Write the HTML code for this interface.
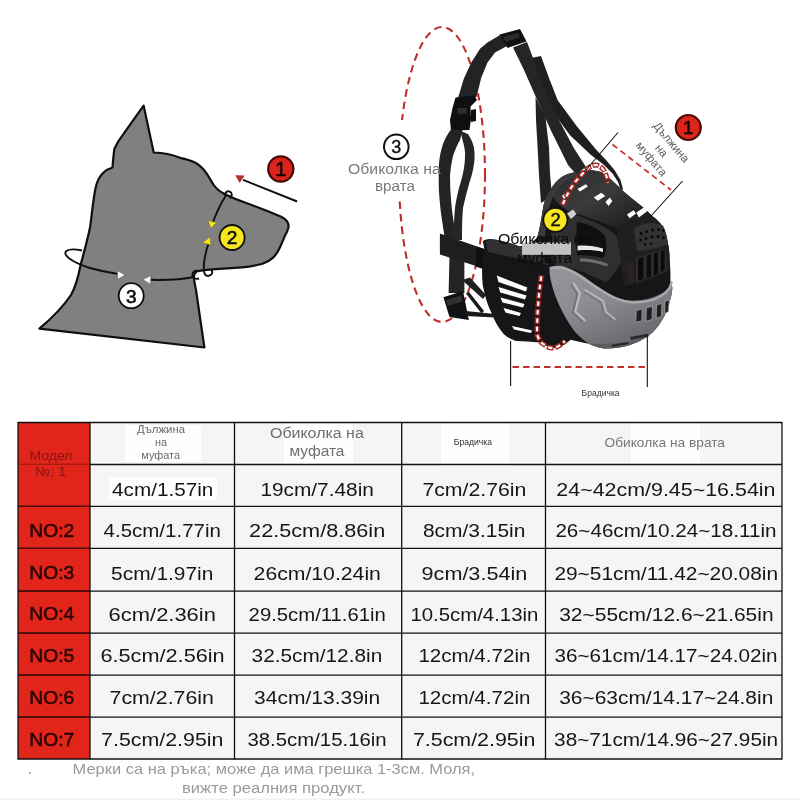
<!DOCTYPE html>
<html><head><meta charset="utf-8"><title>Size chart</title>
<style>
html,body{margin:0;padding:0;background:#fff;}
body{width:800px;height:800px;overflow:hidden;font-family:"Liberation Sans",sans-serif;}
svg{display:block;will-change:transform;}
text{font-family:"Liberation Sans",sans-serif;}
.d{font-size:19.2px;fill:#161616;}
.n{font-size:18.5px;fill:#2b0503;stroke:#2b0503;stroke-width:0.55px;}
.m{font-size:13.2px;fill:#8a1510;}
.h1{font-size:11.5px;fill:#6a6a6a;}
.h2{font-size:14px;fill:#6f6f6f;}
.h3{font-size:8.7px;fill:#333;}
.h4{font-size:13.3px;fill:#777;}
.f{font-size:15px;fill:#9a9a9a;}
</style></head><body>
<svg width="800" height="800" viewBox="0 0 800 800">
<rect width="800" height="800" fill="#ffffff"/>
<g id="dog">
<path d="M143.6,105.6 L153.7,152.5 C163,152.8 172,154.5 180,157.8 C186,159 191,160.5 195,162.5 C199.5,165 203,168.5 206.2,172.8 C209,177 211,181 213.7,185 C216.5,189 220.5,192 225,194.3 C231.5,197.5 238.5,200.3 245.6,202.8 C253,205.6 260.5,208.4 268,211.2 C272.5,213 277,214.8 281.2,216.8 C283.5,218 285.7,219.6 287.2,221.5 C288.4,223.5 288.8,225.8 288.3,228 C287.6,230.8 286.4,233.4 285,235.6 C283.3,240 281.3,244.5 279.3,248.7 C277.7,251.8 275.9,254.6 273.7,257.1 C270.4,260.2 266.7,262.3 262.5,263.7 C255.8,265.6 248.9,266.7 241.8,267.4 C231.8,268.3 221.9,268.9 211.9,269.3 C206,269.7 200.5,270.2 196.5,271.5 C194.3,273 193.6,275.5 194,278.7 C194.5,283 195.3,287 196,290 L204.4,347.5 L39.4,328.7 C52,318 63,307 71,295 C76,286 78.5,276 80.6,265 C84,252 87.5,240 90,227.5 C92,214 93,200 95.6,188 C97,181 100,176 103,173 C106,170 109,168.5 112.5,167.5 C113,161 113.5,155 114.4,148.7 C117,143 120,138.5 123.7,133.7 Z" fill="#808080" stroke="#0f0f0f" stroke-width="2.2" stroke-linejoin="round"/>
<!-- muzzle loop upper -->
<path d="M225.2,196 C224.5,192.5 227.5,190.5 229.5,191.5 C232.5,192.5 232.5,196 229.8,198.3" fill="none" stroke="#0f0f0f" stroke-width="1.9"/>
<path d="M226.3,195 C222.5,200.5 219.5,206.5 217.5,211.2 C215.8,215 214.3,218.5 213,222" fill="none" stroke="#0f0f0f" stroke-width="1.9"/>
<!-- muzzle loop lower -->
<path d="M208.3,244 C206.5,249.5 205.2,255 204.4,260 C203.8,264 203.7,268 204,271.2 C204.4,274.5 206,276 208,276 C211,275.8 212.6,273.5 212.2,271.8 C212,270.5 211.5,269.8 211,269.3" fill="none" stroke="#0f0f0f" stroke-width="1.9"/>
<path d="M199,278.5 C196,279.5 192.5,278 192.3,275 C192.2,272 195,270 197.5,270.8" fill="none" stroke="#0f0f0f" stroke-width="1.9"/>
<!-- neck loop -->
<path d="M82,250.5 C66,247 60.5,252.5 70,259 C75,262.5 82,265.5 90,268 C99,270.5 108,272.5 118,274" fill="none" stroke="#0f0f0f" stroke-width="1.9"/>
<path d="M150,279.8 C165,280.2 181,279.8 193.5,277" fill="none" stroke="#0f0f0f" stroke-width="1.9"/>
<!-- arrowheads -->
<polygon points="117.3,270.6 125.3,275 117.6,279.4" fill="#f4f4f4" stroke="#444" stroke-width="0.5"/>
<polygon points="151,275.6 142.6,279.6 150.6,284.4" fill="#f4f4f4" stroke="#444" stroke-width="0.5"/>
<polygon points="208.1,220.6 216.5,222.5 210.9,228.2" fill="#f5e21e" stroke="#6b6410" stroke-width="0.4"/>
<polygon points="202.5,242.7 210,237.1 210.9,245" fill="#f5e21e" stroke="#6b6410" stroke-width="0.4"/>
<!-- arrow 1 -->
<line x1="297.1" y1="201.5" x2="243" y2="179.8" stroke="#0f0f0f" stroke-width="1.9"/>
<polygon points="235.3,175.2 244.7,175.6 239.6,183.1" fill="#b22f2c"/>
<!-- circles -->
<circle cx="280.8" cy="169" r="12.6" fill="#d9251d" stroke="#470806" stroke-width="2.2"/>
<text x="280.8" y="176.2" text-anchor="middle" font-size="20" fill="#1a0504" stroke="#1a0504" stroke-width="0.7">1</text>
<circle cx="232.1" cy="237.5" r="12.5" fill="#f6e51f" stroke="#0f0f0f" stroke-width="1.8"/>
<text x="232.1" y="244.3" text-anchor="middle" font-size="19" fill="#111" stroke="#111" stroke-width="0.6">2</text>
<circle cx="131.2" cy="295.7" r="12.5" fill="#ffffff" stroke="#0f0f0f" stroke-width="1.8"/>
<text x="131.2" y="302.5" text-anchor="middle" font-size="19" fill="#111" stroke="#111" stroke-width="0.6">3</text>
</g>
<g id="muzzle">
<defs>
<linearGradient id="gTop" x1="0" y1="0" x2="1" y2="1">
<stop offset="0" stop-color="#2a2a2c"/><stop offset="0.45" stop-color="#3b3b3e"/><stop offset="1" stop-color="#161618"/>
</linearGradient>
<linearGradient id="gPanel" x1="0" y1="0" x2="0.6" y2="1">
<stop offset="0" stop-color="#949699"/><stop offset="0.5" stop-color="#8a8c8f"/><stop offset="1" stop-color="#66686b"/>
</linearGradient>
<linearGradient id="gStrap" x1="0" y1="0" x2="1" y2="0">
<stop offset="0" stop-color="#202022"/><stop offset="0.5" stop-color="#2b2b2e"/><stop offset="1" stop-color="#19191b"/>
</linearGradient>
</defs>
<!-- neck dashed ellipse -->
<ellipse cx="442" cy="174.5" rx="43" ry="147.5" fill="none" stroke="#bf2f29" stroke-width="2.1" stroke-dasharray="7.5 5"/>
<rect x="385" y="120" width="62" height="77" fill="#fff"/>
<!-- strap B: far-side vertical -->
<path d="M535.5,97 L545.5,117 L549,147.5 L550,174 L552,196 L541,203 L539,175 L537.6,147.5 L536,120 Z" fill="#222224"/>
<!-- strap C: thin to front top -->
<path d="M531,58 L541,56 L549,78 L557.7,100.3 L577,126.5 L596,149.5 L606,160 L614.5,170 L620.5,180 L623,189.5 L620.8,190.2 L618,182 L612.5,173.5 L603.5,164.5 L591,155 L570,135.3 L550,108 L538,84 Z" fill="#1f1f21"/>
<!-- strap A: main right strap -->
<path d="M513,47.5 L527,42 L537.5,70 L549,100 L559.5,121 L573.5,147.5 L586,167 L576,174 L568,165 L550.7,130 L535,95 L524,70 Z" fill="#252527"/>
<!-- left strap from top buckle to clip -->
<path d="M500,35 L487.5,42.5 L480,48.8 L471.3,62.5 L463.8,78.8 L458,98 L476.5,97 L481.3,77.5 L487.5,62.5 L495,52.5 L508,45.5 Z" fill="#232325"/>
<!-- top slider buckle -->
<path d="M499.5,34.5 L520,29 L526.5,41.5 L507.5,48 Z" fill="#101012"/>
<path d="M503,37 L518,33 L520,37.5 L506,42 Z" fill="#2a2a2d"/>
<!-- clip buckle -->
<path d="M455.5,97.5 L474.5,95.5 L477,100 L470.5,106.5 L471,119 L469.5,130 L451,130.5 L450,120 L452.5,108 Z" fill="#0f0f11"/>
<path d="M457.5,108 L467,108 L466.5,114 L457,113.5 Z" fill="#2c2c2f"/>
<path d="M471,110 L476,109 L476,121 L471,122 Z" fill="#111113"/>
<!-- loop below clip -->
<path d="M451,129.5 C447.5,134 445,139 443,144 C440.8,150.5 439.5,157 439,164 C438.6,173.5 438.6,183 439,192 C439.6,201.5 440.6,211 442,220 L445,240 L457,240 L454,224 C452.6,216 451.6,208 451,200 C450.3,192 450,184 450,176 C450.5,169 451.5,162.5 453,156 C454.8,150.5 457.2,145 460,140 L462.5,130 Z" fill="#232325"/>
<path d="M460.5,131 L468,134 C471,138.5 473,143 474,148 C474.8,153 474.8,158.5 474,164 C473,171 471.3,177.5 469,184 C466.8,192 464.7,200 463,208 C462.3,216 462,224 462,232 L462,240 L452,240 L454,224 C454.2,218.5 454.5,213 455,208 C456,201 457.3,194.5 459,188 C461,181.5 462.8,175 464,168 C464.8,162.5 465.2,157 465,152 C464.4,147 463.4,142.5 462,138 Z" fill="#262628"/>
<!-- vertical strap below -->
<path d="M449.5,256 L464.4,261 L464.4,293 L448.6,293 Z" fill="#242426"/>
<!-- horizontal strap -->
<path d="M439.9,233.4 L487,250 L486.3,269.3 L439.9,254.4 Z" fill="#1e1e20"/>
<path d="M476.5,246.5 L487.5,250 L486.5,270 L475.5,266.5 Z" fill="#0f0f11"/>
<!-- lower slider -->
<path d="M443.4,297.3 L463,291 L468.8,320 L449.5,317 Z" fill="#111113"/>
<path d="M446,300 L461,295.5 L462.5,301.5 L447.5,306 Z" fill="#303033"/>
<!-- thin straps to cage -->
<path d="M466,293.5 L469,292 L484,311 L481.5,313.5 Z" fill="#1a1a1c"/>
<path d="M466,311 L495,314 L495,317.5 L466,316 Z" fill="#1a1a1c"/>
<path d="M462,280 L470,277.5 L486,295 L483,299 Z" fill="#202022"/>
<!-- basket silhouette -->
<path d="M543.5,205.5 C545,199 547.5,194 550.5,189.7 C553.5,184.5 557,180.5 561,177.5 C565.5,174.5 570,173 575,172.2 C584,169.5 593,169.5 601,172 C609,177 616,184 623,191 C631,198 639,204 645,209 C648,212 650.5,214 652,216 C656.5,219 660,222.5 662.5,226.5 C665.5,231.5 667,237 667.7,242.3 C669,247.5 669.5,253 669.5,258 C670.3,266 670.6,274 670.4,280.7 C672,286 672.8,288 672.2,289.4 C671.8,294 670.8,298.5 669.4,302.5 C668,308 666,313 663.7,317.5 C660.5,323 657,328 652.5,332.5 C648,336.5 643,339.5 637.5,341.9 C631.5,344.5 625,346.5 618.7,347.5 C613.5,348.3 608.5,348.6 603.7,348.4 C598.5,347.5 593.5,346 588.7,343.7 C582,342.5 576,341 570.7,339.7 C566,343.5 562,346.5 557,348 C551,348 545,345.5 540.5,342.5 C531,341.5 523,341.5 516,341 C511,339.5 507,337 503.7,334 C498.5,328 494.5,321 491.5,313 C487,304 484.5,294.5 482.7,285 C481.5,273 482,261 484.5,250 C484,246.5 483.3,243.5 482.7,241.3 C486,238.5 490.5,238.5 495,239.5 C503.5,241 511.5,243.5 519.5,246.5 C526,245 532,242.5 537,238 C540,229 541.5,217 543.5,205.5 Z" fill="#161618"/>
<!-- top surface lighter -->
<path d="M575,172.2 C584,169.5 593,169.5 601,172 C609,177 616,184 623,191 C631,198 639,204 645,209 C648,212 650.5,214 652,216 C640,218 628,222 617,228 C600,222 584,215 570,212 C563,208 557,203 553,197 C557,187 565,177 575,172.2 Z" fill="url(#gTop)"/>
<!-- front dome slightly lighter -->
<path d="M652,216 C656.5,219 660,222.5 662.5,226.5 C665.5,231.5 667,237 667.7,242.3 C669,247.5 669.5,253 669.5,258 L669.8,270 C656,278 640,284 624,286 C621,268 619,248 617,228 C628,222 640,218 652,216 Z" fill="#1f1f21"/>
<!-- rear rim band lighter -->
<path d="M543.5,205.5 C545,199 547.5,194 550.5,189.7 C553.5,184.5 557,180.5 561,177.5 C565.5,174.5 570,173 575,172.2 L578,176 C571,177.5 565,181 560.5,186 C554,193 550,202 548.5,212 L545,236 L537,238 C540,229 541.5,217 543.5,205.5 Z" fill="#3a3a3d"/>
<!-- side frame (lighter charcoal) -->
<path d="M553,212 C564,211 578,215 592,221 C604,226 612,231 617,236 L621,262 C617,270 612,277 606,282 C598,279 590,275 583,272 C574,268.5 565,266.5 556,265.5 C553,262 551,258 549.5,254 Z" fill="#2f2f32"/>
<!-- side window dark interior -->
<path d="M577,222 C588,223.5 598,228 605,236 C607,244 607,251 603,258 C594,256 585,255 577,255.5 C576,245 576,233 577,222 Z" fill="#101012"/>
<path d="M577.6,245.7 C586,245 595,246 603,248.5 L603,252 C595,250 586,249.5 577.6,250.5 Z" fill="#e8e8e8"/>
<path d="M580,258.5 C590,258.5 600,260.5 608,264 L607,266.5 C599,263.5 590,261.5 580,261.5 Z" fill="#6f6f72"/>
<!-- gray lower panel -->
<path d="M549.4,266.9 C554,265.6 558.5,265.4 562.5,266 C567.5,267.5 572.5,269.8 577.5,272.5 C584,276.5 590,281 596.2,285.6 C602.5,289.8 608.5,293.6 615,296.9 C620,299 625,300.2 630,300.6 C636.5,300.8 642.5,300.2 648.7,298.7 C654,297.2 659,295 663.7,292.2 C667,289.8 669.5,287 670.6,281 C672,286 672.8,288 672.2,289.4 C671.8,294 670.8,298.5 669.4,302.5 C668,308 666,313 663.7,317.5 C660.5,323 657,328 652.5,332.5 C648,336.5 643,339.5 637.5,341.9 C631.5,344.5 625,346.5 618.7,347.5 C613.5,348.3 608.5,348.6 603.7,348.4 C598.5,347.5 593.5,346 588.7,343.7 C584,340.5 579.5,336.8 575.6,332.5 C571.5,327.3 567.8,321.6 564.4,315.6 C560.8,309 557.7,302 555,295 C553,289.5 551.5,284 550.3,278.1 C549.7,274.3 549.4,270.5 549.4,266.9 Z" fill="url(#gPanel)"/>
<path d="M551,268.3 C556,267.2 561,267.3 566,269 C572,271.2 578,274.8 584,279 C592,284.5 600,290 608,294.5 C615,298.3 622,301 630,302.2 C638,302.8 646,302 653,299.8 C660,297.3 666,293.3 669.5,288 C670.6,286 671.3,284 671.6,282" fill="none" stroke="#aaacae" stroke-width="2.2" stroke-linecap="round"/>
<path d="M588.7,343.7 C598,348 610,349.5 622,347 C632,345 641,341 648,335.5 C640,339.5 630,342 620,343 C608,344 597,343.5 588.7,343.7 Z" fill="#5a5c5f"/>
<!-- chevron emboss -->
<path d="M573.5,283 L580,293.3 L575.3,311.5 L585.5,321" fill="none" stroke="#b9bbbd" stroke-width="2.2" stroke-linejoin="round"/>
<path d="M570.8,284 L577.3,294.3 L572.6,312.5 L582.8,322" fill="none" stroke="#6a6c6f" stroke-width="1.2" stroke-linejoin="round"/>
<path d="M584.5,289.5 L603,300.8 L606,312 L615.5,319.5" fill="none" stroke="#b3b5b7" stroke-width="2" stroke-linejoin="round"/>
<path d="M584,292 L601,302.5 L604,313.5 L613.5,321" fill="none" stroke="#707275" stroke-width="1.1" stroke-linejoin="round"/>
<!-- slots on gray band -->
<g fill="#1f1f21" stroke="#a9abad" stroke-width="0.7">
<path d="M636.2,310.5 L642.2,309 L641.8,321 L635.8,322.2 Z"/>
<path d="M646.4,308 L652.5,306.2 L652,319.5 L646,321.2 Z"/>
<path d="M656.5,305 L661.9,303.4 L661.4,316.5 L656.2,318.4 Z"/>
<path d="M665,301.5 L669.2,299.7 L668.4,311.5 L664.7,313.7 Z"/>
</g>
<g fill="#2a2a2c">
<path d="M630,337 L648,333.8 L648.7,336.5 L631,340 Z"/>
<path d="M611.5,344.8 L628,342 L628.5,344 L612.5,347 Z"/>
</g>
<!-- white openings on top of basket -->
<g fill="#ffffff">
<path d="M577.4,188.9 L585.9,184.3 L587.8,186.5 L579.9,191.4 Z"/>
<path d="M593.7,197.6 L601.3,192.7 L605.3,195.9 L597.8,200.8 Z"/>
<path d="M605.4,202 L609.7,197.4 L612.3,201.1 L608.6,206.1 Z"/>
<path d="M627,214.6 L633.6,210.2 L636.1,213.4 L629.6,218.3 Z"/>
<path d="M636.4,212.5 L645,206.7 L647.8,210.8 L638.9,217.6 Z"/>
<path d="M562,196 L567,192 L569,194 L564,199 Z"/>
</g>
<!-- front face vertical slots -->
<path d="M636,258 L666,248.5 L667,271 L636,282.5 Z" fill="#2c2c2e"/>
<g fill="#0b0b0c">
<path d="M638,259 L643.3,257 L643.3,279 L638,281 Z"/>
<path d="M646.8,256 L651,254.5 L651,276.5 L646.8,278 Z"/>
<path d="M653.8,253.5 L658,252 L658,273.5 L653.8,275.5 Z"/>
<path d="M660.8,251 L664.6,250 L664.6,270 L660.8,272.5 Z"/>
</g>
<path d="M627,263 L633,261 L633,283 L628,284.5 Z" fill="#2b2320"/>
<!-- small holes -->
<path d="M634,228 C642,223 654,221.5 663,225.5 C666,231 667.3,238 667.7,245 C658,248 647,250 637,251 Z" fill="#333336"/>
<g fill="#08080a">
<circle cx="641" cy="233.5" r="1.5"/><circle cx="646.5" cy="231.5" r="1.5"/><circle cx="652.5" cy="230" r="1.5"/><circle cx="658.5" cy="229.5" r="1.4"/><circle cx="663.5" cy="230.5" r="1.3"/>
<circle cx="640.5" cy="240" r="1.5"/><circle cx="646" cy="238.5" r="1.5"/><circle cx="652" cy="237" r="1.5"/><circle cx="658" cy="236.5" r="1.4"/><circle cx="663.5" cy="237.5" r="1.3"/>
<circle cx="645" cy="244.5" r="1.3"/><circle cx="651" cy="243.5" r="1.3"/>
</g>
<path d="M486,241.5 C490,239.5 494,239.3 497,240 C505,241.5 512,243.5 519.5,246.5 C527,248.5 535,252 542,257 L549,266 C540,262.5 530,260 520,258.5 C509,256.5 498,254.5 488,252 Z" fill="#303033"/>
<!-- rear cage slots (white) -->
<g fill="#ffffff">
<path d="M496.7,275.5 L527.3,287.5 L526,291.5 L498.5,282 Z"/>
<path d="M498.5,287 L526.5,295.5 L525,299.5 L500.3,292.5 Z"/>
<path d="M500.5,297.5 L524.5,304 L523,307.5 L502.5,302.5 Z"/>
<path d="M503.5,308 L521,313 L519.5,316 L505.5,312.5 Z"/>
<path d="M512,326 L532,330.5 L531,333 L514,329.5 Z"/>
</g>
<!-- light patch remnants behind label 2 -->
<rect x="522" y="242.5" width="49" height="12.3" fill="#c2c2c2"/>
<path d="M567,213.5 L573,209.5 L576.5,214 L571,219 Z" fill="#d0d0d0"/>
<!-- measure dashed: snout circumference -->
<path d="M562.5,205 C567,194 573,183 581.7,174.7 C587,168 592,164.5 596.5,165 C602,166 606,171 608,183" fill="none" stroke="#ad2a25" stroke-width="5" stroke-dasharray="6.6 1.8"/>
<path d="M562.5,205 C567,194 573,183 581.7,174.7 C587,168 592,164.5 596.5,165 C602,166 606,171 608,183" fill="none" stroke="#fff" stroke-width="2" stroke-dasharray="4.4 4" stroke-dashoffset="-1.1"/>
<path d="M541.4,275.4 C538.5,295 537,315 537,334 C539,341 541.5,343.5 544,344.5 C547,347.5 551,348.5 554.5,348 C558.5,346.5 562,344 565,341" fill="none" stroke="#ad2a25" stroke-width="5" stroke-dasharray="6.6 1.8"/>
<path d="M541.4,275.4 C538.5,295 537,315 537,334 C539,341 541.5,343.5 544,344.5 C547,347.5 551,348.5 554.5,348 C558.5,346.5 562,344 565,341" fill="none" stroke="#fff" stroke-width="2" stroke-dasharray="4.4 4" stroke-dashoffset="-1.1"/>
<!-- length lines -->
<line x1="618" y1="132.5" x2="586" y2="170" stroke="#111" stroke-width="1.1"/>
<line x1="682.5" y1="181" x2="651" y2="216" stroke="#111" stroke-width="1.1"/>
<line x1="612.5" y1="144.5" x2="671" y2="190" stroke="#c2322b" stroke-width="1.7" stroke-dasharray="6 4"/>
<!-- chin lines -->
<line x1="510.6" y1="341" x2="510.6" y2="386" stroke="#111" stroke-width="1.1"/>
<line x1="647.3" y1="335" x2="647.3" y2="387" stroke="#111" stroke-width="1.1"/>
<line x1="512.5" y1="367" x2="647" y2="367" stroke="#c2322b" stroke-width="1.8" stroke-dasharray="6.5 4"/>
<!-- labels -->
<circle cx="396.3" cy="146.8" r="12.3" fill="#fff" stroke="#111" stroke-width="2"/>
<text x="396.3" y="153.3" text-anchor="middle" font-size="18" fill="#111" stroke="#111" stroke-width="0.4">3</text>
<text x="348" y="173.8" textLength="92.8" lengthAdjust="spacingAndGlyphs" font-size="14" fill="#7a7a7a">Обиколка на</text>
<text x="375" y="191.3" textLength="40" lengthAdjust="spacingAndGlyphs" font-size="14" fill="#7a7a7a">врата</text>
<circle cx="555.4" cy="219.9" r="12" fill="#f6e51f" stroke="#111" stroke-width="1.7"/>
<text x="555.6" y="226.4" text-anchor="middle" font-size="18.5" fill="#111" stroke="#111" stroke-width="0.4">2</text>
<text x="497.9" y="243.5" textLength="93.5" lengthAdjust="spacingAndGlyphs" font-size="14.5" fill="#0c0c0c">Обиколка на</text>
<text x="517" y="262.8" textLength="55" lengthAdjust="spacingAndGlyphs" font-size="14.5" fill="#0c0c0c">муфата</text>
<circle cx="688.3" cy="127.5" r="12.5" fill="#d9251d" stroke="#470806" stroke-width="2.2"/>
<text x="688.3" y="134.3" text-anchor="middle" font-size="19" fill="#1a0504" stroke="#1a0504" stroke-width="0.5">1</text>
<g transform="translate(661.6,150.5) rotate(50)" font-size="11.6" fill="#5e5e5e" text-anchor="middle">
<text x="0" y="-9">Дължина</text>
<text x="0" y="4">на</text>
<text x="0" y="17">муфата</text>
</g>
<text x="581.6" y="395.5" textLength="38" lengthAdjust="spacingAndGlyphs" font-size="8.7" fill="#333">Брадичка</text>
</g>

<g id="table">
<rect x="90" y="422.5" width="692" height="336.5" fill="#f5f5f5"/>
<rect x="18" y="422.5" width="72" height="336.5" fill="#e1251b"/>
<rect x="125" y="425" width="76" height="37" fill="#ffffff" opacity="0.85"/>
<rect x="284" y="422" width="69" height="43" fill="#ffffff" opacity="0.85"/>
<rect x="441" y="422" width="68" height="44" fill="#ffffff" opacity="0.85"/>
<rect x="631" y="422" width="69" height="42.5" fill="#ffffff" opacity="0.85"/>
<rect x="109" y="477" width="108" height="23" fill="#ffffff" opacity="0.85"/>
<line x1="18" y1="422.5" x2="782" y2="422.5" stroke="#111" stroke-width="1.3"/>
<line x1="90" y1="464.5" x2="782" y2="464.5" stroke="#111" stroke-width="1.3"/>
<line x1="18" y1="506.3" x2="782" y2="506.3" stroke="#111" stroke-width="1.3"/>
<line x1="18" y1="548.3" x2="782" y2="548.3" stroke="#111" stroke-width="1.3"/>
<line x1="18" y1="591.2" x2="782" y2="591.2" stroke="#111" stroke-width="1.3"/>
<line x1="18" y1="633.2" x2="782" y2="633.2" stroke="#111" stroke-width="1.3"/>
<line x1="18" y1="675.1" x2="782" y2="675.1" stroke="#111" stroke-width="1.3"/>
<line x1="18" y1="717.1" x2="782" y2="717.1" stroke="#111" stroke-width="1.3"/>
<line x1="18" y1="759" x2="782" y2="759" stroke="#111" stroke-width="1.3"/>
<line x1="18" y1="421.9" x2="18" y2="759.6" stroke="#111" stroke-width="1.3"/>
<line x1="90" y1="421.9" x2="90" y2="759.6" stroke="#111" stroke-width="1.3"/>
<line x1="234.5" y1="421.9" x2="234.5" y2="759.6" stroke="#111" stroke-width="1.3"/>
<line x1="401.7" y1="421.9" x2="401.7" y2="759.6" stroke="#111" stroke-width="1.3"/>
<line x1="545.5" y1="421.9" x2="545.5" y2="759.6" stroke="#111" stroke-width="1.3"/>
<line x1="782" y1="421.9" x2="782" y2="759.6" stroke="#111" stroke-width="1.3"/>
<line x1="18" y1="464.2" x2="90" y2="464.2" stroke="#6e120d" stroke-width="0.9" opacity="0.75"/>
<line x1="18.7" y1="506.3" x2="89.3" y2="506.3" stroke="#4a0806" stroke-width="1.3"/>
<line x1="18.7" y1="548.3" x2="89.3" y2="548.3" stroke="#4a0806" stroke-width="1.3"/>
<line x1="18.7" y1="591.2" x2="89.3" y2="591.2" stroke="#4a0806" stroke-width="1.3"/>
<line x1="18.7" y1="633.2" x2="89.3" y2="633.2" stroke="#4a0806" stroke-width="1.3"/>
<line x1="18.7" y1="675.1" x2="89.3" y2="675.1" stroke="#4a0806" stroke-width="1.3"/>
<line x1="18.7" y1="717.1" x2="89.3" y2="717.1" stroke="#4a0806" stroke-width="1.3"/>
<text x="112.1" y="495.8" textLength="101.3" lengthAdjust="spacingAndGlyphs" class="d">4cm/1.57in</text>
<text x="260.4" y="495.8" textLength="113.5" lengthAdjust="spacingAndGlyphs" class="d">19cm/7.48in</text>
<text x="422.4" y="495.8" textLength="104.0" lengthAdjust="spacingAndGlyphs" class="d">7cm/2.76in</text>
<text x="556.3" y="495.8" textLength="219.2" lengthAdjust="spacingAndGlyphs" class="d">24~42cm/9.45~16.54in</text>
<text x="103.6" y="537.3" textLength="117.3" lengthAdjust="spacingAndGlyphs" class="d">4.5cm/1.77in</text>
<text x="249.1" y="537.3" textLength="136.1" lengthAdjust="spacingAndGlyphs" class="d">22.5cm/8.86in</text>
<text x="422.9" y="537.3" textLength="102.5" lengthAdjust="spacingAndGlyphs" class="d">8cm/3.15in</text>
<text x="555.4" y="537.3" textLength="221.1" lengthAdjust="spacingAndGlyphs" class="d">26~46cm/10.24~18.11in</text>
<text x="111.1" y="579.5" textLength="102.3" lengthAdjust="spacingAndGlyphs" class="d">5cm/1.97in</text>
<text x="253.6" y="579.5" textLength="127.3" lengthAdjust="spacingAndGlyphs" class="d">26cm/10.24in</text>
<text x="421.6" y="579.5" textLength="105.6" lengthAdjust="spacingAndGlyphs" class="d">9cm/3.54in</text>
<text x="554.4" y="579.5" textLength="223.7" lengthAdjust="spacingAndGlyphs" class="d">29~51cm/11.42~20.08in</text>
<text x="108.6" y="620.6" textLength="107.3" lengthAdjust="spacingAndGlyphs" class="d">6cm/2.36in</text>
<text x="248.6" y="620.6" textLength="137.3" lengthAdjust="spacingAndGlyphs" class="d">29.5cm/11.61in</text>
<text x="410.4" y="620.6" textLength="128.0" lengthAdjust="spacingAndGlyphs" class="d">10.5cm/4.13in</text>
<text x="559.2" y="620.6" textLength="214.4" lengthAdjust="spacingAndGlyphs" class="d">32~55cm/12.6~21.65in</text>
<text x="100.4" y="662.2" textLength="124.3" lengthAdjust="spacingAndGlyphs" class="d">6.5cm/2.56in</text>
<text x="251.6" y="662.2" textLength="130.6" lengthAdjust="spacingAndGlyphs" class="d">32.5cm/12.8in</text>
<text x="418.4" y="662.2" textLength="112.0" lengthAdjust="spacingAndGlyphs" class="d">12cm/4.72in</text>
<text x="554.5" y="662.2" textLength="223.0" lengthAdjust="spacingAndGlyphs" class="d">36~61cm/14.17~24.02in</text>
<text x="109.6" y="704.1" textLength="104.3" lengthAdjust="spacingAndGlyphs" class="d">7cm/2.76in</text>
<text x="254.1" y="704.1" textLength="126.1" lengthAdjust="spacingAndGlyphs" class="d">34cm/13.39in</text>
<text x="418.4" y="704.1" textLength="112.0" lengthAdjust="spacingAndGlyphs" class="d">12cm/4.72in</text>
<text x="559.2" y="704.1" textLength="214.1" lengthAdjust="spacingAndGlyphs" class="d">36~63cm/14.17~24.8in</text>
<text x="101.1" y="746" textLength="122.3" lengthAdjust="spacingAndGlyphs" class="d">7.5cm/2.95in</text>
<text x="247.4" y="746" textLength="139.3" lengthAdjust="spacingAndGlyphs" class="d">38.5cm/15.16in</text>
<text x="412.9" y="746" textLength="122.5" lengthAdjust="spacingAndGlyphs" class="d">7.5cm/2.95in</text>
<text x="554.1" y="746" textLength="224.0" lengthAdjust="spacingAndGlyphs" class="d">38~71cm/14.96~27.95in</text>
<text x="29.3" y="537.2" textLength="45" lengthAdjust="spacingAndGlyphs" class="n">NO:2</text>
<text x="29.3" y="579.2" textLength="45" lengthAdjust="spacingAndGlyphs" class="n">NO:3</text>
<text x="29.3" y="619.8" textLength="45" lengthAdjust="spacingAndGlyphs" class="n">NO:4</text>
<text x="29.3" y="661.5" textLength="45" lengthAdjust="spacingAndGlyphs" class="n">NO:5</text>
<text x="29.3" y="703.5" textLength="45" lengthAdjust="spacingAndGlyphs" class="n">NO:6</text>
<text x="29.3" y="745.5" textLength="45" lengthAdjust="spacingAndGlyphs" class="n">NO:7</text>
<text x="29.5" y="460" textLength="43" lengthAdjust="spacingAndGlyphs" class="m">Модел</text>
<text x="35" y="475.5" textLength="31.3" lengthAdjust="spacingAndGlyphs" class="m">№: 1</text>
<text x="137" y="433" textLength="48" lengthAdjust="spacingAndGlyphs" class="h1">Дължина</text>
<text x="155" y="446.3" textLength="12" lengthAdjust="spacingAndGlyphs" class="h1">на</text>
<text x="141.3" y="458.8" textLength="38.7" lengthAdjust="spacingAndGlyphs" class="h1">муфата</text>
<text x="270" y="438" textLength="93.8" lengthAdjust="spacingAndGlyphs" class="h2">Обиколка на</text>
<text x="289.5" y="455.5" textLength="55" lengthAdjust="spacingAndGlyphs" class="h2">муфата</text>
<text x="453.8" y="445" textLength="38.3" lengthAdjust="spacingAndGlyphs" class="h3">Брадичка</text>
<text x="604.5" y="447" textLength="120.5" lengthAdjust="spacingAndGlyphs" class="h4">Обиколка на врата</text>
<text x="72.6" y="773.6" textLength="402.5" lengthAdjust="spacingAndGlyphs" class="f">Мерки са на ръка; може да има грешка 1-3см. Моля,</text>
<text x="182" y="792.5" textLength="183" lengthAdjust="spacingAndGlyphs" class="f">вижте реалния продукт.</text>
<circle cx="30" cy="773" r="0.8" fill="#555"/>
<rect x="0" y="798.6" width="800" height="1.4" fill="#f7eded"/>
</g>
</svg>
</body></html>
